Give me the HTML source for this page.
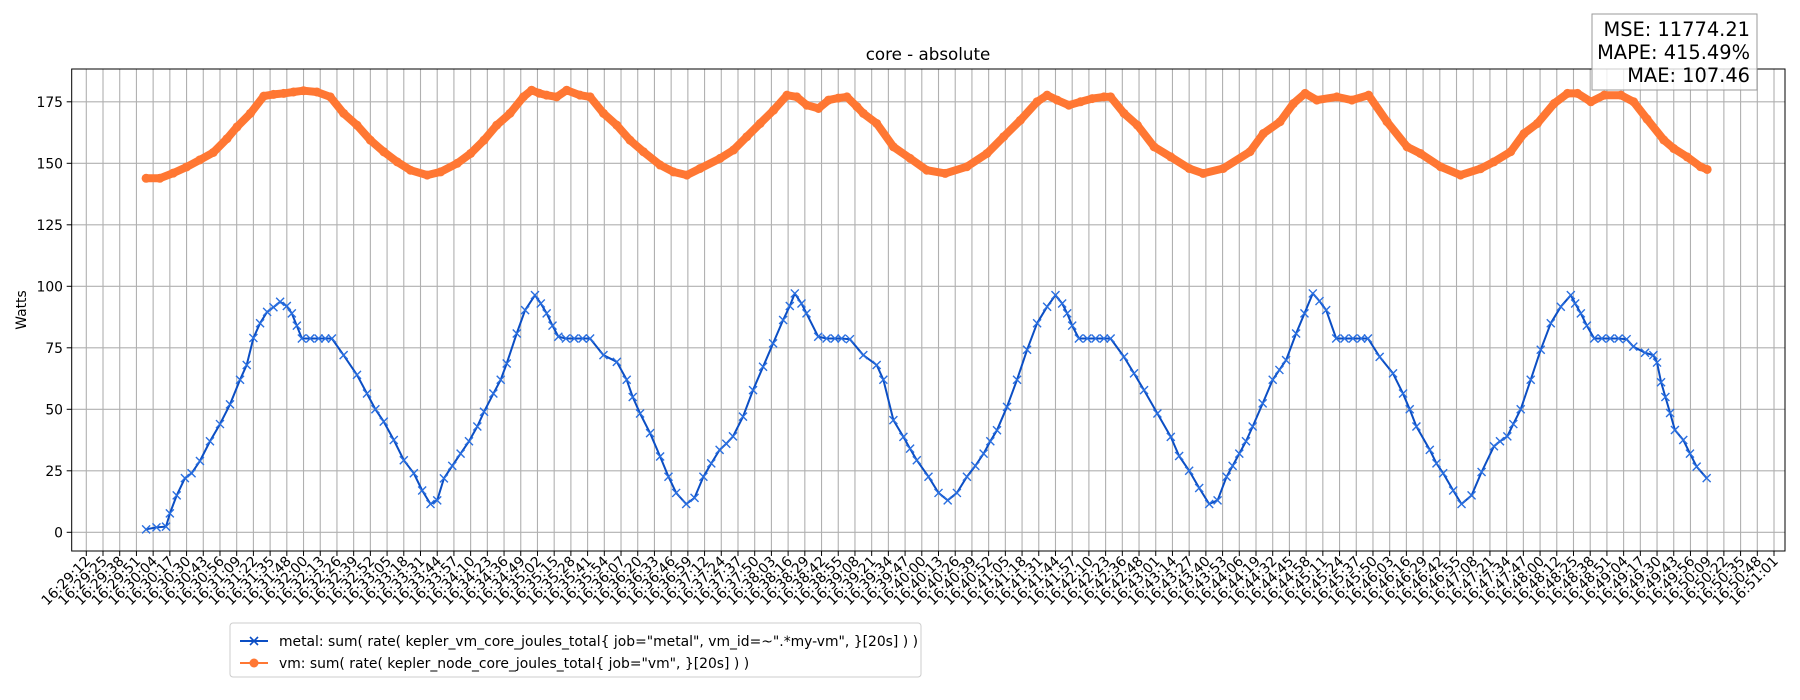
<!DOCTYPE html>
<html><head><meta charset="utf-8"><title>core - absolute</title>
<style>
html,body{margin:0;padding:0;background:#fff;}
svg{display:block;font-family:"DejaVu Sans","Liberation Sans",sans-serif;}
</style></head>
<body>
<svg id="chart" width="1800" height="700" viewBox="0 0 1800 700" xmlns="http://www.w3.org/2000/svg">
  <rect x="0" y="0" width="1800" height="700" fill="#fff"/>
  <g id="grid"></g>
  <g id="series"></g>
  <rect x="71.7" y="69" width="1713.3" height="482" fill="none" stroke="#000" stroke-width="1"/>
  <g id="yaxis"></g>
  <g id="xaxis"></g>
  <text x="928" y="60" text-anchor="middle" font-size="16.7">core - absolute</text>
  <text transform="translate(26,310) rotate(-90)" text-anchor="middle" font-size="13.9">Watts</text>
  <g>
    <rect x="1592" y="14" width="165" height="76" fill="#fff" fill-opacity="0.8" stroke="#999" stroke-width="1"/>
    <text x="1750" y="36" text-anchor="end" font-size="19.4">MSE: 11774.21</text>
    <text x="1750" y="59" text-anchor="end" font-size="19.4">MAPE: 415.49%</text>
    <text x="1750" y="82" text-anchor="end" font-size="19.4">MAE: 107.46</text>
  </g>
  <g>
    <rect x="230" y="623" width="691" height="54" rx="3" fill="#fff" stroke="#ccc" stroke-width="1"/>
    <g>
      <line x1="240" y1="641" x2="268" y2="641" stroke="#0b4ec4" stroke-width="2"/>
      <path d="M250,637 l8,8 M258,637 l-8,8" stroke="#0b4ec4" stroke-width="1.6"/>
      <text x="279" y="646" font-size="13.9">metal: sum( rate( kepler_vm_core_joules_total{ job="metal", vm_id=~".*my-vm", }[20s] ) )</text>
    </g>
    <g>
      <line x1="240" y1="663" x2="268" y2="663" stroke="#ff7733" stroke-width="2"/>
      <circle cx="254" cy="663" r="4.5" fill="#ff7733"/>
      <text x="279" y="668" font-size="13.9">vm: sum( rate( kepler_node_core_joules_total{ job="vm", }[20s] ) )</text>
    </g>
  </g>
</svg>
<script>
const xTickLabels = ["16:29:12","16:29:25","16:29:38","16:29:51","16:30:04","16:30:17","16:30:30","16:30:43","16:30:56","16:31:09","16:31:22","16:31:35","16:31:48","16:32:00","16:32:13","16:32:26","16:32:39","16:32:52","16:33:05","16:33:18","16:33:31","16:33:44","16:33:57","16:34:10","16:34:23","16:34:36","16:34:49","16:35:02","16:35:15","16:35:28","16:35:41","16:35:54","16:36:07","16:36:20","16:36:33","16:36:46","16:36:59","16:37:12","16:37:24","16:37:37","16:37:50","16:38:03","16:38:16","16:38:29","16:38:42","16:38:55","16:39:08","16:39:21","16:39:34","16:39:47","16:40:00","16:40:13","16:40:26","16:40:39","16:40:52","16:41:05","16:41:18","16:41:31","16:41:44","16:41:57","16:42:10","16:42:23","16:42:36","16:42:48","16:43:01","16:43:14","16:43:27","16:43:40","16:43:53","16:44:06","16:44:19","16:44:32","16:44:45","16:44:58","16:45:11","16:45:24","16:45:37","16:45:50","16:46:03","16:46:16","16:46:29","16:46:42","16:46:55","16:47:08","16:47:21","16:47:34","16:47:47","16:48:00","16:48:12","16:48:25","16:48:38","16:48:51","16:49:04","16:49:17","16:49:30","16:49:43","16:49:56","16:50:09","16:50:22","16:50:35","16:50:48","16:51:01"];
const yTicks = [0,25,50,75,100,125,150,175];
// sample times expressed in x-tick index units
const metalT = [3.58,4.2,4.77,5.0,5.41,5.9,6.3,6.8,7.4,8.0,8.6,9.2,9.6,10.0,10.4,10.82,11.2,11.6,12.0,12.3,12.6,12.9,13.4,13.9,14.3,14.7,15.4,16.2,16.8,17.3,17.8,18.4,19.0,19.6,20.1,20.6,21.0,21.4,21.9,22.4,22.9,23.4,23.8,24.36,24.8,25.16,25.76,26.26,26.85,27.2,27.55,27.9,28.25,28.7,29.2,29.7,30.15,30.95,31.75,32.34,32.7,33.14,33.74,34.34,34.84,35.3,35.9,36.4,36.93,37.4,37.9,38.3,38.7,39.3,39.9,40.5,41.1,41.7,42.1,42.4,42.8,43.1,43.8,44.3,44.8,45.2,45.7,46.5,47.3,47.7,48.3,48.9,49.3,49.7,50.4,51.0,51.55,52.1,52.7,53.2,53.7,54.1,54.5,55.1,55.7,56.3,56.9,57.5,58.0,58.4,58.7,59.0,59.4,59.9,60.4,60.9,61.3,62.1,62.7,63.3,64.1,64.9,65.4,66.0,66.6,67.2,67.7,68.24,68.6,69.0,69.4,69.8,70.4,71.0,71.4,71.8,72.4,72.9,73.4,73.8,74.2,74.8,75.3,75.8,76.3,76.7,77.4,78.2,78.8,79.2,79.6,80.4,80.8,81.2,81.8,82.3,82.9,83.5,84.24,84.6,85.04,85.4,85.84,86.44,87.04,87.64,88.24,88.84,89.1,89.44,89.8,90.24,90.7,91.2,91.7,92.18,92.58,93.28,93.78,94.0,94.24,94.5,94.78,95.07,95.57,95.97,96.37,96.97];
const metalV = [1.2,2,2.3,7.7,15,22,24,29,37,44,52,62,68,79,85,89.6,91.5,93.7,92,89,84,78.8,78.8,78.8,78.8,78.8,72,64,56.4,50,45,37.5,29.3,24,17,11.5,13,21.9,27,32,37,43,49,56.4,62,68.6,80.8,90.3,96.4,93,89,84,79.5,78.8,78.8,78.8,78.8,72,69.3,62,55,48.3,40.3,30.8,22.6,16,11.5,14,22.6,28,33.5,36,39,47,57.8,67.3,76.8,86.3,92,97.1,93,89,79.5,78.8,78.8,78.8,78.5,72,68,62,45.6,38.8,34,29.3,22.6,16,13,16,22.6,27,32,37,41.5,51,62,74.2,85,91.7,96.4,93,89,84,78.8,78.8,78.8,78.8,78.8,71.3,64.6,57.8,48.3,38.8,31,25,18,11.5,13,22.6,27,32,37,43,52.4,62,66,70,80.8,89,97.1,94,90.3,78.8,78.8,78.8,78.8,78.8,71.3,64.6,56.4,50,43,33.5,28,24,17,11.5,15,24.5,35,37,39,44,50,62,74.2,85,91.7,96.4,93,89,84,78.8,78.8,78.8,78.8,78.5,75.5,73,72,69,61,55,48.5,41.6,37.5,32,26.7,22];
const vmT = [3.58,4.4,5.2,6.0,6.8,7.6,8.42,9.02,9.82,10.62,11.2,11.81,12.4,13.0,13.8,14.6,15.4,16.2,17.0,17.8,18.6,19.4,20.4,21.2,22.2,23.0,23.8,24.56,25.36,26.16,26.65,27.1,27.55,28.15,28.75,29.55,30.15,30.95,31.75,32.54,33.34,34.34,35.14,35.94,36.73,37.93,38.73,39.53,40.33,41.13,41.93,42.52,43.12,43.82,44.42,45.0,45.52,46.12,46.5,47.3,48.3,49.3,50.3,51.4,52.7,53.9,54.9,55.9,56.9,57.5,58.1,58.8,59.5,60.2,60.9,61.3,62.1,62.9,63.9,64.9,66.0,66.84,68.04,69.64,70.44,71.44,72.24,72.94,73.64,74.84,75.74,76.74,77.84,79.04,79.84,81.04,82.24,83.44,84.24,85.24,86.04,86.84,87.84,88.64,89.24,90.04,90.84,91.84,92.6,93.4,94.4,95.0,95.8,96.6,97.0];
const vmV = [143.9,143.9,146,148.5,151.4,154.4,160,164.8,170.3,177.3,178,178.4,179,179.5,179,177,170.3,165.5,159.4,154.7,150.6,147.2,145.2,146.5,150,154,159.4,165.5,170.3,177,179.7,178.5,177.7,177,179.7,177.7,177,170.3,165.5,159.4,154.7,149.3,146.5,145.2,147.9,152,155.4,160.8,166.2,171.6,177.7,177,173.6,172.3,175.7,176.5,177,173,170.3,166.2,156.7,152,147.2,145.9,148.6,154,160.8,167.5,175,177.7,175.7,173.6,175,176.3,177,177,170.3,165.5,156.7,152.6,147.9,145.9,147.9,154.7,162.1,166.9,174.3,178.4,175.7,177,175.7,177.7,166.9,156.7,154,148.6,145.2,147.8,150.6,154.7,162.1,166.2,174.3,178.4,178.4,175,177.7,177.7,175,168,159.5,156,152.6,148.6,147.5];

const NS = "http://www.w3.org/2000/svg";
function xScale(i){ return 86.3 + 16.71 * i; }
function yScale(v){ return 532.3 - 2.46 * v; }
function mk(tag, attrs, parent){
  const el = document.createElementNS(NS, tag);
  for (const k in attrs) el.setAttribute(k, attrs[k]);
  parent.appendChild(el);
  return el;
}
const grid = document.getElementById('grid');
const xaxis = document.getElementById('xaxis');
const yaxis = document.getElementById('yaxis');
const series = document.getElementById('series');

xTickLabels.forEach((lab, i) => {
  const x = xScale(i);
  const g = mk('line', {x1:x, y1:69, x2:x, y2:551, stroke:'#b0b0b0', 'stroke-width':1.1}, grid);
  
  
  const t = mk('line', {x1:x, y1:551, x2:x, y2:556, stroke:'#000', 'stroke-width':1}, xaxis);
  
  
  const tx = mk('text', {transform:'translate(' + (x + 5) + ',562) rotate(-45)', 'text-anchor':'end', 'font-size':13.9}, xaxis);
  tx.textContent = lab;
  
  
});
yTicks.forEach(v => {
  const y = yScale(v);
  const g = mk('line', {x1:71.7, y1:y, x2:1785, y2:y, stroke:'#b0b0b0', 'stroke-width':1.1}, grid);
  
  
  const t = mk('line', {x1:66.7, y1:y, x2:71.7, y2:y, stroke:'#000', 'stroke-width':1}, yaxis);
  
  
  const tx = mk('text', {x:63, y:y + 5, 'text-anchor':'end', 'font-size':13.9}, yaxis);
  tx.textContent = String(v);
  
  
});

// vm series (orange, circle markers)
const vmPts = vmT.map((t, i) => xScale(t).toFixed(1) + ',' + yScale(vmV[i]).toFixed(1)).join(' ');
const vmLine = mk('polyline', {points:vmPts, fill:'none', stroke:'#ff7733', 'stroke-width':8, 'stroke-linejoin':'round', 'stroke-linecap':'round'}, series);


vmT.forEach((t, i) => {
  const c = mk('circle', {cx:xScale(t), cy:yScale(vmV[i]), r:4.5, fill:'#ff7733'}, series);
  
  
});

// metal series (blue, x markers)
const mPts = metalT.map((t, i) => xScale(t).toFixed(1) + ',' + yScale(metalV[i]).toFixed(1)).join(' ');
const mLine = mk('polyline', {points:mPts, fill:'none', stroke:'#0b4ec4', 'stroke-width':2, 'stroke-linejoin':'round'}, series);


metalT.forEach((t, i) => {
  const x = xScale(t), y = yScale(metalV[i]);
  const p = mk('path', {d:'M' + (x-4) + ',' + (y-4) + 'l8,8M' + (x+4) + ',' + (y-4) + 'l-8,8', stroke:'#2a6fe0', 'stroke-width':1.4, fill:'none'}, series);
  
  
});
</script>
</body></html>
